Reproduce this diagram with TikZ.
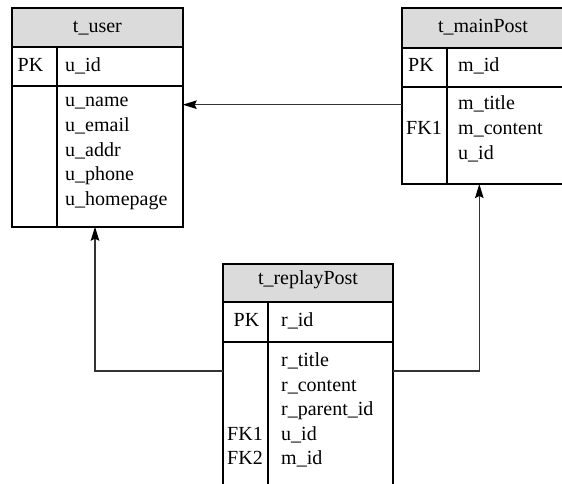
\documentclass[tikz,border=0pt]{standalone}
\usepackage{fontspec}
\setmainfont{Liberation Serif}
\usetikzlibrary{arrows.meta}
\definecolor{headgray}{gray}{0.86}
\begin{document}
\begin{tikzpicture}[x=1pt,y=-1pt,
  tbl/.style={draw=black, line width=1.8pt, inner sep=0pt, outer sep=0pt, anchor=north west},
  rule/.style={draw=black, line width=1.8pt},
  cell/.style={anchor=mid west, inner sep=0pt, font=\rmfamily\fontsize{20}{24}\selectfont},
  key/.style={anchor=mid, inner sep=0pt, font=\rmfamily\fontsize{20}{24}\selectfont},
  title/.style={anchor=mid, inner sep=0pt, font=\rmfamily\fontsize{20}{24}\selectfont},
  link/.style={draw=black!80, line width=1.4pt, -{Stealth[length=14pt,width=8.5pt,inset=2pt,black]}}]
\useasboundingbox (0,0) rectangle (562,484);
\clip (0,0) rectangle (562,484);

% ---------- t_user ----------
\fill[headgray] (12,8) rectangle (182.7,46.7);
\node[tbl, minimum width=170.7pt, minimum height=218.7pt] (user) at (12,8) {};
\draw[rule] (12,46.7) -- (182.7,46.7);
\draw[rule] (12,86) -- (182.7,86);
\draw[rule] (57,46.7) -- (57,226.7);
\node[title] (user-t) at (97.4,30.5) {t\_user};
\node[key] (user-pk) at (30.5,69) {PK};
\node[cell] (user-id) at (65,69) {u\_id};
\node[cell] (user-f1) at (65,104.7) {u\_name};
\node[cell] (user-f2) at (65,129.3) {u\_email};
\node[cell] (user-f3) at (65,153.9) {u\_addr};
\node[cell] (user-f4) at (65,178.5) {u\_phone};
\node[cell] (user-f5) at (65,203.1) {u\_homepage};

% ---------- t_mainPost ----------
\fill[headgray] (402,8) rectangle (564,47.7);
\node[tbl, minimum width=162pt, minimum height=176pt] (main) at (402,8) {};
\draw[rule] (402,47.7) -- (564,47.7);
\draw[rule] (402,86.7) -- (564,86.7);
\draw[rule] (446.7,47.7) -- (446.7,184);
\node[title] (main-t) at (483,30.5) {t\_mainPost};
\node[key] (main-pk) at (421,69.5) {PK};
\node[cell] (main-id) at (458,69.5) {m\_id};
\node[cell] (main-f1) at (458,107) {m\_title};
\node[cell] (main-f2) at (458,132.5) {m\_content};
\node[cell] (main-f3) at (458,157) {u\_id};
\node[key] (main-fk1) at (424,132.5) {FK1};

% ---------- t_replayPost ----------
\fill[headgray] (222.7,264) rectangle (393.3,302.3);
\node[tbl, minimum width=170.6pt, minimum height=240pt] (reply) at (222.7,264) {};
\draw[rule] (222.7,302.3) -- (393.3,302.3);
\draw[rule] (222.7,341.7) -- (393.3,341.7);
\draw[rule] (268.3,302.3) -- (268.3,504);
\node[title] (reply-t) at (308,282) {t\_replayPost};
\node[key] (reply-pk) at (246.5,324) {PK};
\node[cell] (reply-id) at (281,324) {r\_id};
\node[cell] (reply-f1) at (281,364) {r\_title};
\node[cell] (reply-f2) at (281,389) {r\_content};
\node[cell] (reply-f3) at (281,413.5) {r\_parent\_id};
\node[cell] (reply-f4) at (281,438) {u\_id};
\node[cell] (reply-f5) at (281,462) {m\_id};
\node[key] (reply-fk1) at (245,438) {FK1};
\node[key] (reply-fk2) at (245,462) {FK2};

% ---------- relationships ----------
\coordinate (ucol) at (95,0);
\coordinate (mcol) at (479.3,0);
\draw[link] (main.west |- 0,104.7) -- (user.east |- 0,104.7);
\draw[link] (reply.west |- 0,371) -| (ucol |- user.south);
\draw[link] (reply.east |- 0,371) -| (mcol |- main.south);
\end{tikzpicture}
\end{document}
